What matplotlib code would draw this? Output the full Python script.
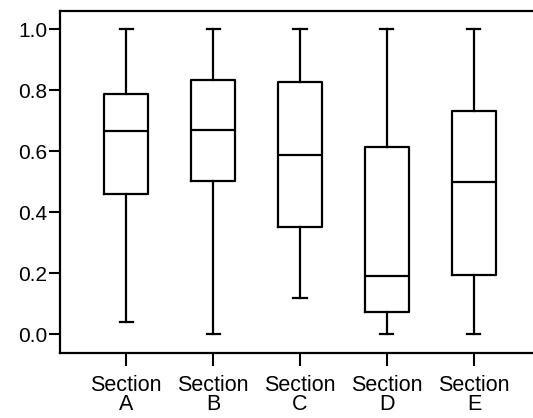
import matplotlib.pyplot as plt

plt.rcParams['font.family'] = ['Liberation Sans', 'DejaVu Sans']

sections = ['Section\nA', 'Section\nB', 'Section\nC', 'Section\nD', 'Section\nE']
whisker_low = [0.04, 0.0, 0.118, 0.0, 0.0]
q1 = [0.46, 0.501, 0.352, 0.074, 0.196]
median = [0.667, 0.668, 0.587, 0.19, 0.498]
q3 = [0.788, 0.833, 0.825, 0.615, 0.732]
whisker_high = [1.0, 1.0, 1.0, 1.0, 1.0]

stats = []
for i in range(len(sections)):
    stats.append({'whislo': whisker_low[i], 'q1': q1[i], 'med': median[i],
                  'q3': q3[i], 'whishi': whisker_high[i], 'fliers': []})

fig = plt.figure(figsize=(5.33, 4.18), dpi=100)
ax = fig.add_axes([0.1126, 0.156, 0.8874, 0.8177])

lw = 1.6
ax.bxp(stats, positions=range(1, 6), widths=0.5, capwidths=0.15, showfliers=False,
       boxprops=dict(color='black', linewidth=lw),
       medianprops=dict(color='black', linewidth=lw),
       whiskerprops=dict(color='black', linewidth=lw),
       capprops=dict(color='black', linewidth=lw))

ax.set_xlim(0.24, 5.68)
ax.set_ylim(-0.06, 1.059)
ax.set_yticks([0.0, 0.2, 0.4, 0.6, 0.8, 1.0])
ax.set_yticklabels(['0.0', '0.2', '0.4', '0.6', '0.8', '1.0'])
ax.set_xticks(range(1, 6))
ax.set_xticklabels(sections, fontsize=15.5, linespacing=0.85)
ax.tick_params(axis='y', labelsize=15, length=8, width=1.5, pad=1)
ax.tick_params(axis='x', length=9, width=1.5, pad=7)

ax.spines['right'].set_visible(False)
for s in ['left', 'top', 'bottom']:
    ax.spines[s].set_linewidth(1.6)

fig.savefig('out.png', dpi=100)
